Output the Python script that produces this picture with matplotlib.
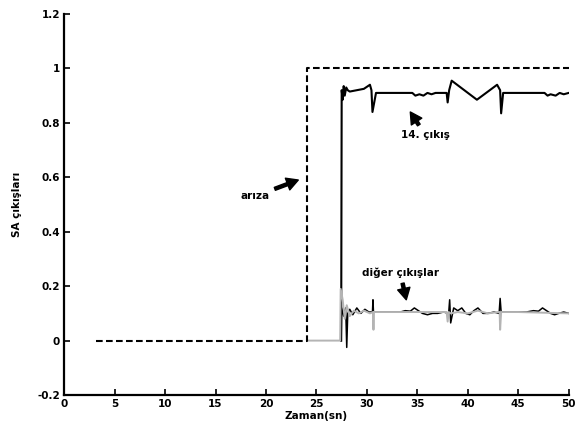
import matplotlib
matplotlib.use("Agg")
import matplotlib.pyplot as plt

# fault signal (dashed)
x_fault = [3.2, 24.1, 24.1, 50.0]
y_fault = [0, 0, 1, 1]

# output 14
x_out14 = [27.45, 27.5, 27.6, 27.7, 27.8, 27.95, 28.1, 28.3, 29.0, 29.7, 30.3,
           30.45, 30.55, 30.9, 31.5, 34.5, 34.8, 35.2, 35.6, 36.0, 36.4, 36.8, 37.4,
           37.9, 38.0, 38.15, 38.4, 40.9, 42.9, 43.2, 43.3, 43.5, 45.0, 47.6, 47.9,
           48.2, 48.7, 49.1, 49.5, 50.0]
y_out14 = [0, 0.92, 0.885, 0.935, 0.90, 0.93, 0.92, 0.915, 0.92, 0.925, 0.94,
           0.92, 0.84, 0.91, 0.91, 0.91, 0.90, 0.905, 0.90, 0.91, 0.905, 0.91, 0.91,
           0.91, 0.875, 0.92, 0.955, 0.885, 0.94, 0.92, 0.835, 0.91, 0.91, 0.91, 0.90,
           0.905, 0.90, 0.91, 0.905, 0.91]

# other outputs (black)
x_other_k = [27.45, 27.5, 27.7, 27.9, 28.0, 28.1, 28.3, 28.6, 29.0, 29.4, 29.8,
             30.2, 30.55, 30.6, 30.65, 31.0, 33.3, 33.8, 34.3, 34.7, 35.1, 35.5, 36.0,
             36.5, 37.0, 37.6, 38.1, 38.2, 38.3, 38.6, 39.0, 39.4, 39.8, 40.2, 40.6,
             41.0, 41.5, 42.0, 42.6, 43.1, 43.2, 43.3, 43.6, 45.8, 46.5, 47.0, 47.4,
             47.8, 48.2, 48.6, 49.0, 49.5, 50.0]
y_other_k = [0, 0.12, 0.09, 0.12, -0.025, 0.10, 0.115, 0.095, 0.12, 0.10, 0.115,
             0.105, 0.105, 0.15, 0.105, 0.105, 0.105, 0.11, 0.108, 0.12, 0.11, 0.10, 0.095,
             0.10, 0.10, 0.105, 0.10, 0.15, 0.065, 0.12, 0.11, 0.12, 0.10, 0.095, 0.11,
             0.12, 0.10, 0.10, 0.105, 0.10, 0.155, 0.105, 0.105, 0.105, 0.11, 0.108, 0.12,
             0.11, 0.10, 0.095, 0.10, 0.105, 0.10]

# other outputs (gray)
x_other_g = [24.1, 27.35, 27.4, 27.6, 27.8, 28.0, 28.3, 28.7, 29.2, 29.7, 30.3, 30.6,
             30.65, 30.7, 31.0, 34.0, 37.9, 38.0, 38.1, 38.3, 39.0, 40.0, 41.0, 42.0,
             43.0, 43.15, 43.2, 43.3, 45.0, 50.0]
y_other_g = [0, 0, 0.19, 0.15, 0.08, 0.13, 0.09, 0.11, 0.10, 0.11, 0.10, 0.105,
             0.04, 0.105, 0.105, 0.105, 0.105, 0.07, 0.105, 0.10, 0.105, 0.10, 0.11, 0.10,
             0.105, 0.105, 0.04, 0.105, 0.105, 0.10]

fig = plt.figure(figsize=(5.78, 4.37), dpi=100)
ax = fig.add_axes([0.111, 0.096, 0.873, 0.872])

ax.plot(x_out14, y_out14, color="black", lw=1.5)
ax.plot(x_other_k, y_other_k, color="black", lw=1.1)
ax.plot(x_other_g, y_other_g, color="#b4b4b4", lw=1.4)
ax.plot(x_fault, y_fault, color="black", lw=1.5, ls=(0, (3.2, 1.6)))

ax.set_xlim(0, 50)
ax.set_ylim(-0.2, 1.2)
ax.set_xticks(range(0, 51, 5))
ax.set_yticks([-0.2, 0, 0.2, 0.4, 0.6, 0.8, 1, 1.2])
ax.set_yticklabels(["-0.2", "0", "0.2", "0.4", "0.6", "0.8", "1", "1.2"])

for s in ["top", "right"]:
    ax.spines[s].set_visible(False)
for s in ["left", "bottom"]:
    ax.spines[s].set_linewidth(1.6)
ax.tick_params(direction="in", length=4, width=1.2, labelsize=7.5, pad=3)
for lab in ax.get_xticklabels() + ax.get_yticklabels():
    lab.set_fontweight("bold")

ax.set_xlabel("Zaman(sn)", fontsize=7.5, fontweight="bold", labelpad=1)
ax.set_ylabel("SA çıkışları", fontsize=7.5, fontweight="bold", labelpad=11)

arrow = dict(arrowstyle="simple,head_length=1.1,head_width=1.2,tail_width=0.3",
             color="black", shrinkA=2, shrinkB=0)
ax.annotate("arıza", xy=(23.2, 0.59), xytext=(18.9, 0.53), fontsize=7.5,
            fontweight="bold", ha="center", va="center", arrowprops=arrow)
ax.annotate("14. çıkış", xy=(34.3, 0.84), xytext=(35.8, 0.755), fontsize=7.5,
            fontweight="bold", ha="center", va="center", arrowprops=arrow)
ax.annotate("diğer çıkışlar", xy=(33.9, 0.15), xytext=(33.3, 0.25), fontsize=7.5,
            fontweight="bold", ha="center", va="center", arrowprops=arrow)

fig.savefig("out.png", dpi=100)
